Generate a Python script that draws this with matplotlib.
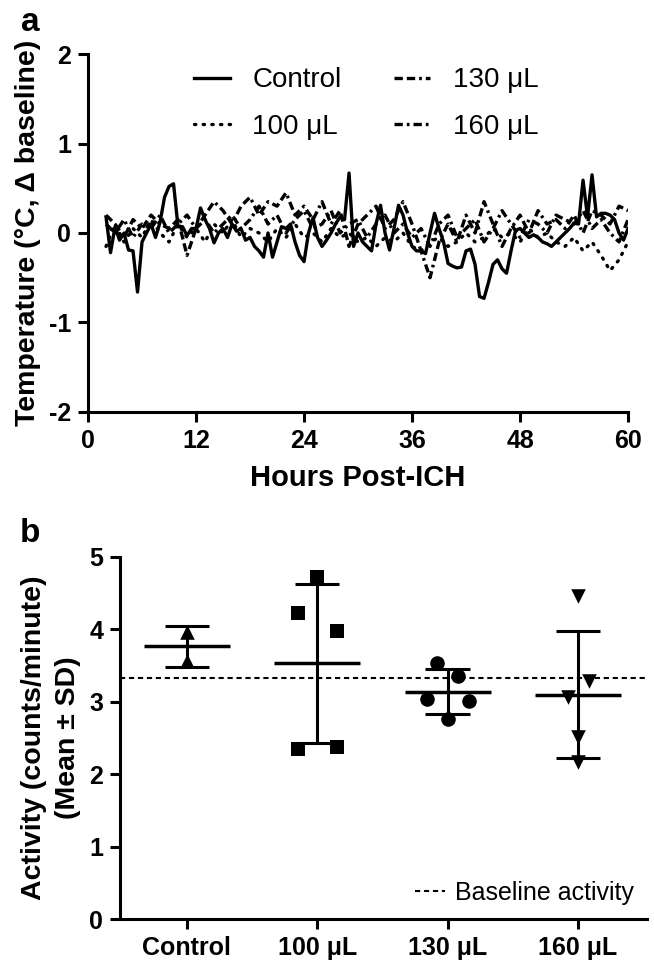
import numpy as np
import matplotlib.pyplot as plt

plt.rcParams['font.family'] = ['Liberation Sans', 'DejaVu Sans']
plt.rcParams['axes.unicode_minus'] = False

# --- panel a: temperature change from baseline ---
hours_ctrl = np.arange(2, 60.5, 0.5)
temp_ctrl = [0.18, -0.22, 0.07, -0.08, 0.0, -0.19, -0.2, -0.66, -0.1, 0.0,     # 2-6.5
             0.1, -0.05, 0.12, 0.4, 0.52, 0.55, 0.07, 0.07, -0.03, 0.05,     # 7-11.5
             0.05, 0.28, 0.15, 0.05, -0.11, 0.0, 0.05, -0.05, 0.1, 0.02,     # 12-16.5
             0.05, -0.08, -0.05, -0.15, -0.2, -0.27, 0.0, -0.27, -0.1, 0.07,  # 17-21.5
             0.05, 0.1, -0.1, -0.25, -0.32, 0.0, 0.17, -0.05, -0.15, -0.08,  # 22-26.5
             0.0, 0.1, 0.18, 0.15, 0.67, -0.15, 0.0, -0.1, -0.15, -0.2,      # 27-31.5
             0.1, 0.31, 0.0, -0.19, 0.05, 0.31, 0.2, 0.0, -0.15, -0.2,       # 32-36.5
             -0.2, -0.23, 0.0, 0.22, 0.05, -0.1, -0.34, -0.37, -0.39, -0.38, # 37-41.5
             -0.2, -0.18, -0.35, -0.71, -0.73, -0.55, -0.35, -0.3, -0.4, -0.45,  # 42-46.5
             -0.2, 0.03, 0.05, 0.0, -0.05, -0.02, -0.05, -0.1, -0.12, -0.15, # 47-51.5
             -0.1, -0.05, 0.0, 0.05, 0.11, 0.1, 0.59, 0.18, 0.65, 0.18,      # 52-56.5
             0.22, 0.22, 0.2, 0.15, 0.0, -0.08, 0.05]                         # 57-60

hours = np.arange(2, 61, 1)
temp_100 = [-0.15, 0.1, -0.1, 0.05, -0.05, 0.15, 0.0, -0.1, 0.1, -0.05,
            0.05, -0.1, 0.1, 0.0, 0.15, -0.05, 0.05, 0.0, -0.1, 0.05,
            -0.05, 0.1, -0.05, 0.0, -0.1, 0.05, -0.05, 0.0, -0.1, -0.05,
            -0.15, -0.05, -0.1, 0.0, -0.15, -0.2, -0.1, -0.05, -0.15, -0.1,
            0.0, -0.1, -0.05, 0.05, -0.05, 0.0, -0.1, 0.05, -0.05, 0.0,
            -0.1, -0.15, -0.05, -0.2, -0.1, -0.25, -0.42, -0.3, -0.1]
temp_130 = [0.2, 0.1, -0.05, 0.15, 0.05, 0.2, 0.1, 0.05, 0.15, -0.25,
            0.05, 0.2, 0.35, 0.25, 0.1, 0.3, 0.4, 0.2, 0.35, 0.3,
            0.45, 0.2, 0.3, 0.15, 0.35, 0.1, 0.25, -0.15, 0.1, 0.2,
            0.3, 0.05, 0.15, 0.35, 0.1, -0.2, -0.5, -0.1, 0.1, -0.1,
            0.2, 0.0, 0.35, 0.1, -0.15, 0.05, 0.2, 0.0, 0.25, 0.1,
            0.15, 0.05, 0.2, 0.0, 0.25, 0.2, 0.1, 0.3, 0.25]
temp_160 = [0.1, 0.0, 0.15, -0.05, 0.1, 0.05, 0.2, 0.0, 0.1, 0.2,
            0.05, 0.15, 0.0, 0.1, 0.2, 0.05, 0.15, 0.3, 0.1, 0.2,
            0.0, 0.15, 0.25, 0.05, 0.1, 0.25, 0.0, 0.1, 0.15, -0.05,
            0.1, 0.2, 0.0, 0.1, -0.05, 0.05, -0.15, 0.1, 0.2, -0.05,
            0.05, 0.15, -0.1, 0.05, 0.25, 0.1, -0.05, 0.15, 0.1, 0.0,
            0.2, 0.15, 0.1, 0.25, 0.05, 0.15, 0.0, -0.1, 0.15]

# --- panel b: activity ---
groups = ['Control', '100 μL', '130 μL', '160 μL']
act_ctrl = [3.97, 3.57]
act_100 = [4.72, 4.22, 3.98, 2.35, 2.38]
act_130 = [3.54, 3.36, 3.04, 3.01, 2.76]
act_160 = [4.46, 3.29, 3.07, 2.51, 2.17]
baseline = 3.33

fig = plt.figure(figsize=(6.54, 9.61), dpi=100)
ax1 = fig.add_axes([0.1346, 0.5713, 0.8257, 0.3725])
ax2 = fig.add_axes([0.1835, 0.0437, 0.806, 0.3767])

LW = 2.2
for ax in (ax1, ax2):
    for s in ('top', 'right'):
        ax.spines[s].set_visible(False)
    for s in ('left', 'bottom'):
        ax.spines[s].set_linewidth(LW)
    ax.tick_params(width=LW, length=7, labelsize=18, pad=5)

# panel a
ax1.plot(hours_ctrl, temp_ctrl, color='black', lw=2.4, label='Control')
ax1.plot(hours, temp_100, color='black', lw=2.4, ls=(0, (0.4, 2.2)),
         dash_capstyle='round', label='100 μL')
ax1.plot(hours, temp_130, color='black', lw=2.4, ls=(0, (2.5, 1.2, 2.5, 1.2, 0.8, 1.2)),
         label='130 μL')
ax1.plot(hours, temp_160, color='black', lw=2.4, ls=(0, (2.5, 1.2, 0.8, 1.2)),
         label='160 μL')
ax1.set_xlim(0, 60)
ax1.set_ylim(-2, 2)
ax1.set_xticks(np.arange(0, 61, 12))
ax1.set_yticks([-2, -1, 0, 1, 2])
for lab in ax1.get_xticklabels() + ax1.get_yticklabels():
    lab.set_fontweight('bold')
ax1.set_xlabel('Hours Post-ICH', fontsize=21, fontweight='bold', labelpad=8)
ax1.set_ylabel('Temperature (°C, Δ baseline)', fontsize=20.5, fontweight='bold', labelpad=6)
ax1.legend(loc='upper left', bbox_to_anchor=(0.196, 0.963), ncol=2, frameon=False,
           fontsize=20, handlelength=1.3, handletextpad=0.8, columnspacing=1.9,
           labelspacing=0.75, borderpad=0, borderaxespad=0)

# panel b
data = [act_ctrl, act_100, act_130, act_160]
markers = ['^', 's', 'o', 'v']
jitter = [[0, 0],
          [0, -0.15, 0.15, -0.15, 0.15],
          [-0.085, 0.08, -0.16, 0.16, 0],
          [0, 0.085, -0.08, 0, 0]]
for i, vals in enumerate(data):
    vals = np.array(vals)
    m = vals.mean()
    sd = vals.std(ddof=1)
    ax2.scatter(i + np.array(jitter[i]), vals, marker=markers[i], s=110,
                color='black', zorder=3, linewidths=0)
    ax2.vlines(i, m - sd, m + sd, color='black', lw=LW, zorder=4)
    ax2.hlines(m, i - 0.33, i + 0.33, color='black', lw=LW + 0.3, zorder=4)
    ax2.hlines([m - sd, m + sd], i - 0.17, i + 0.17, color='black', lw=LW, zorder=4)

ax2.axhline(baseline, color='black', lw=1.5, ls=(0, (2.5, 1.8)), label='Baseline activity', zorder=2)
ax2.set_xlim(-0.513, 3.53)
ax2.set_ylim(0, 5)
ax2.set_yticks(range(6))
ax2.set_xticks(range(4))
ax2.set_xticklabels(groups)
for lab in ax2.get_xticklabels() + ax2.get_yticklabels():
    lab.set_fontweight('bold')
ax2.set_ylabel('Activity (counts/minute)\n(Mean ± SD)', fontsize=20.5, fontweight='bold',
               linespacing=1.4, labelpad=6)
ax2.legend(loc='lower left', bbox_to_anchor=(0.56, 0.04), frameon=False, fontsize=18,
           handlelength=1.2, handletextpad=0.4, borderpad=0, borderaxespad=0)

fig.text(0.046, 0.977, 'a', fontsize=24, fontweight='bold', ha='center', va='center')
fig.text(0.046, 0.445, 'b', fontsize=24, fontweight='bold', ha='center', va='center')

fig.savefig('out.png', dpi=100)
